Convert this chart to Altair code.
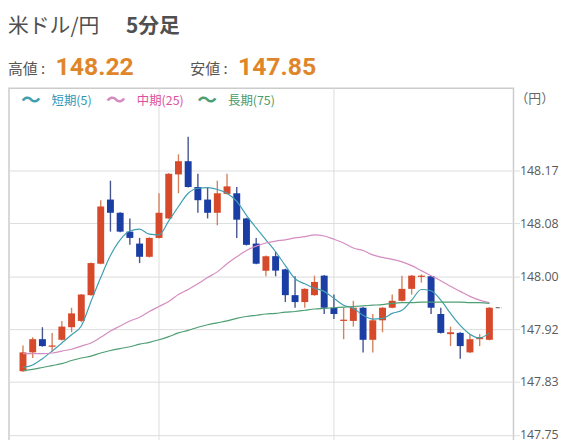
import altair as alt
import pandas as pd

# ---- data ----
opens = [147.849, 147.879, 147.900, 147.888, 147.899, 147.919, 147.929, 147.970, 148.020, 148.122,
         148.101, 148.071, 148.052, 148.031, 148.061, 148.092, 148.162, 148.183, 148.142, 148.122,
         148.101, 148.131, 148.132, 148.092, 148.052, 148.009, 148.032, 148.011, 147.970, 147.959,
         147.970, 148.001, 147.950, 147.929, 147.929, 147.950, 147.899, 147.930, 147.950, 147.961,
         147.980, 147.999, 148.000, 147.940, 147.908, 147.910, 147.879, 147.900, 147.899]
closes = [147.879, 147.900, 147.889, 147.890, 147.920, 147.941, 147.971, 148.021, 148.111, 148.101,
          148.071, 148.061, 148.031, 148.061, 148.101, 148.163, 148.183, 148.142, 148.121, 148.101,
          148.132, 148.143, 148.090, 148.050, 148.020, 148.032, 148.009, 147.970, 147.959, 147.980,
          147.991, 147.950, 147.940, 147.931, 147.950, 147.899, 147.930, 147.950, 147.961, 147.980,
          148.001, 148.001, 147.950, 147.910, 147.911, 147.889, 147.900, 147.903, 147.950]
highs = [147.890, 147.903, 147.919, 147.910, 147.929, 147.950, 147.972, 148.022, 148.121, 148.152,
         148.102, 148.092, 148.061, 148.062, 148.132, 148.164, 148.194, 148.222, 148.163, 148.142,
         148.152, 148.163, 148.142, 148.093, 148.061, 148.033, 148.039, 148.012, 148.000, 147.981,
         148.001, 148.002, 147.971, 147.950, 147.961, 147.951, 147.940, 147.951, 147.971, 148.001,
         148.002, 148.003, 148.001, 147.950, 147.920, 147.911, 147.908, 147.908, 147.951]
lows = [147.848, 147.870, 147.888, 147.880, 147.898, 147.911, 147.927, 147.969, 148.019, 148.071,
        148.070, 148.050, 148.021, 148.030, 148.060, 148.091, 148.132, 148.141, 148.101, 148.092,
        148.081, 148.130, 148.061, 148.049, 148.019, 148.000, 148.000, 147.959, 147.950, 147.950,
        147.969, 147.940, 147.932, 147.900, 147.920, 147.879, 147.879, 147.911, 147.949, 147.960,
        147.971, 147.990, 147.940, 147.909, 147.889, 147.869, 147.878, 147.889, 147.898]

ma_short = [147.855, 147.859, 147.869, 147.881, 147.894, 147.907, 147.921, 147.960, 147.998, 148.033,
            148.058, 148.072, 148.075, 148.067, 148.066, 148.088, 148.111, 148.132, 148.140, 148.141,
            148.138, 148.132, 148.119, 148.097, 148.077, 148.058, 148.039, 148.017, 147.996, 147.988,
            147.981, 147.976, 147.965, 147.954, 147.949, 147.938, 147.932, 147.933, 147.941, 147.946,
            147.962, 147.979, 147.977, 147.962, 147.941, 147.922, 147.908, 147.902, 147.910]
ma_mid = [147.877, 147.877, 147.877, 147.878, 147.881, 147.884, 147.889, 147.894, 147.903, 147.913,
          147.921, 147.929, 147.935, 147.944, 147.952, 147.960, 147.971, 147.979, 147.988, 147.998,
          148.007, 148.020, 148.031, 148.041, 148.048, 148.053, 148.056, 148.058, 148.061, 148.063,
          148.066, 148.064, 148.059, 148.053, 148.045, 148.041, 148.034, 148.030, 148.027, 148.023,
          148.017, 148.009, 148.001, 147.993, 147.984, 147.976, 147.968, 147.962, 147.958]
ma_long = [147.850, 147.852, 147.855, 147.858, 147.861, 147.866, 147.870, 147.873, 147.878, 147.882,
           147.885, 147.888, 147.892, 147.895, 147.899, 147.904, 147.910, 147.914, 147.919, 147.923,
           147.926, 147.929, 147.933, 147.936, 147.938, 147.940, 147.941, 147.943, 147.944, 147.946,
           147.948, 147.949, 147.950, 147.951, 147.952, 147.953, 147.954, 147.955, 147.957, 147.958,
           147.958, 147.959, 147.959, 147.959, 147.959, 147.959, 147.958, 147.958, 147.957]

series_names = ["短期(5)", "中期(25)", "長期(75)"]
series_colors = ["#3f9fb0", "#d58cc0", "#4e9e74"]
legend_text_colors = ["#2f97b5", "#de4f9e", "#4a9a6a"]
y_ticks = [147.748, 147.832, 147.916, 148.000, 148.084, 148.168]
vgrid_idx = [14, 32]
title_main = "米ドル/円"
title_sub = "5分足"
high_label, high_value = "高値 :", "148.22"
low_label, low_value = "安値 :", "147.85"
unit_label = "（円）"

# ---- build tables ----
n = len(opens)
idx = list(range(n))
df = pd.DataFrame(dict(i=idx, open=opens, close=closes, high=highs, low=lows))
df["dir"] = ["up" if c >= o else "down" for o, c in zip(opens, closes)]

ma_df = pd.concat([
    pd.DataFrame(dict(i=idx, value=vals, s=name))
    for name, vals in zip(series_names, [ma_short, ma_mid, ma_long])
])

xs = alt.Scale(domain=[-0.93, 49.97])
ys = alt.Scale(domain=[147.7237, 148.299])
yax = alt.Axis(orient="right", values=y_ticks, format=".2f", title=None, grid=True,
               gridColor="#dddddd", domain=False, tickColor="#dddddd", tickSize=6,
               labelPadding=0, labelFont="Open Sans", labelFontSize=12.5, labelColor="#5a5a5a")
X = alt.X("i:Q", scale=xs, axis=None)

vgrid = alt.Chart(pd.DataFrame(dict(i=vgrid_idx))).mark_rule(color="#dddddd", strokeWidth=1).encode(x=X)

wick = alt.Chart(df).mark_rule(strokeWidth=1.4).encode(
    x=X, y=alt.Y("low:Q", scale=ys, axis=yax), y2="high:Q",
    color=alt.Color("dir:N", scale=alt.Scale(domain=["up", "down"], range=["#d3835f", "#45558f"]), legend=None))
body = alt.Chart(df).mark_bar(size=7).encode(
    x=X, y=alt.Y("open:Q", scale=ys, axis=yax), y2="close:Q",
    color=alt.Color("dir:N", scale=alt.Scale(domain=["up", "down"], range=["#d64a2b", "#1b3ea5"]), legend=None))

lines = alt.Chart(ma_df).mark_line(strokeWidth=1.2, interpolate="monotone").encode(
    x=X, y=alt.Y("value:Q", scale=ys, axis=yax),
    color=alt.Color("s:N", scale=alt.Scale(domain=series_names, range=series_colors), legend=None),
    detail="s:N")

last = pd.DataFrame(dict(i=[n - 1 + 0.65], i2=[n - 1 + 1.3], v=[closes[-1]]))
last_mark = alt.Chart(last).mark_rule(color="#555555", strokeWidth=1, strokeDash=[4, 2]).encode(
    x=X, x2="i2:Q", y=alt.Y("v:Q", scale=ys, axis=yax))

one = pd.DataFrame(dict(a=[0]))
def txt(t, x, y, size, color, weight="normal", font="Noto Sans CJK JP"):
    return alt.Chart(one).mark_text(text=t, align="left", baseline="alphabetic", fontSize=size,
                                    color=color, fontWeight=weight, font=font).encode(
        x=alt.value(x), y=alt.value(y))

texts = [
    txt(title_main, -1, -56, 21, "#505050"),
    txt(title_sub, 118, -56, 21, "#505050", "bold"),
    txt(high_label, -1, -14, 15, "#555555"),
    txt(high_value, 47, -13, 25, "#e0862a", "bold", "Roboto"),
    txt(low_label, 183, -14, 15, "#555555"),
    txt(low_value, 231, -13, 25, "#e0862a", "bold", "Roboto"),
    txt(unit_label, 511, 15, 13, "#666666"),
]
leg_x = [12, 98, 190]
for k, name in enumerate(series_names):
    texts.append(txt("〜", leg_x[k], 19, 20, series_colors[k], "bold"))
    texts.append(txt(name, leg_x[k] + 31, 17, 12.5, legend_text_colors[k]))

chart = alt.layer(vgrid, wick, body, lines, last_mark, *texts).resolve_scale(
    color="independent"
).properties(
    width=509, height=365,
    padding={"left": 1, "top": 79, "right": 55, "bottom": 0},
    autosize=alt.AutoSizeParams(type="none"),
).configure_view(stroke="#cccccc", strokeWidth=1.5)

chart.save("out.html", embed_options={"renderer": "svg", "actions": False})
